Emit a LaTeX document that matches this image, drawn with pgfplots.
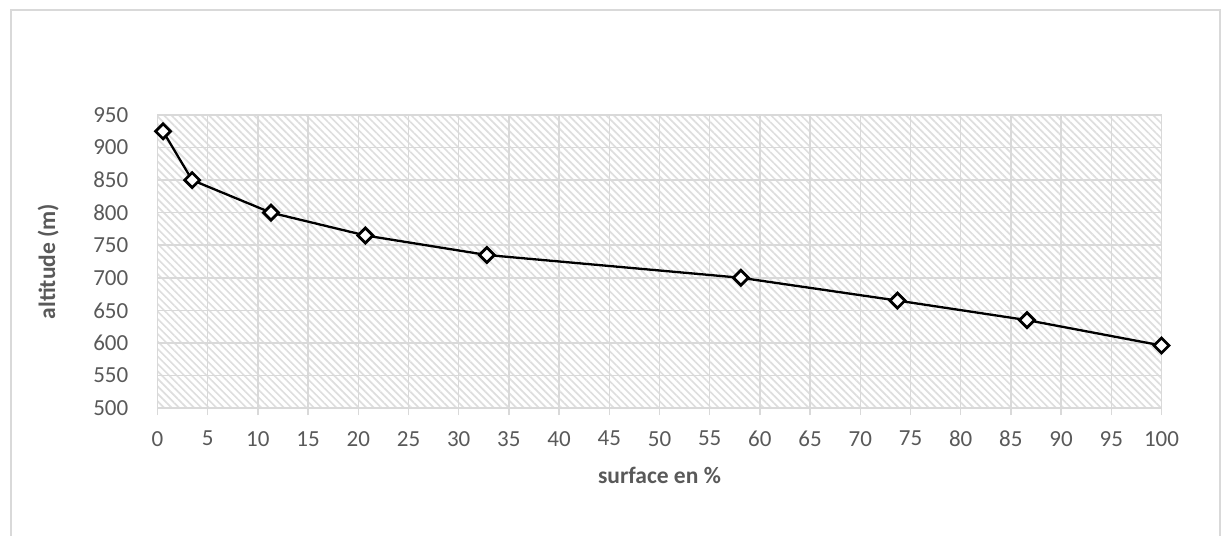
\documentclass[border=0pt]{standalone}
\usepackage{pgfplots}
\pgfplotsset{compat=1.18}
\usepackage{fontspec}
\setmainfont{Carlito}
\usetikzlibrary{patterns.meta}
\definecolor{txtgray}{HTML}{595959}
\definecolor{gridgray}{HTML}{D9D9D9}
\begin{document}
\begin{tikzpicture}
\path[use as bounding box] (0,0) rectangle (1221bp,-536bp);
\draw[gridgray, line width=1.5bp] (11bp,-536bp) -- (11bp,-10bp) -- (1220bp,-10bp) -- (1220bp,-536bp);
\begin{axis}[
  at={(157.5bp,-408bp)}, anchor=south west,
  scale only axis, width=1004bp, height=293bp,
  xmin=0, xmax=100, ymin=500, ymax=950,
  xtick={0,5,...,100}, ytick={500,550,...,950},
  grid=major,
  major grid style={gridgray, line width=1.5bp},
  axis line style={gridgray, line width=1.5bp},
  axis background/.style={pattern={Lines[angle=-45,distance=5.3bp,line width=1.7bp]}, pattern color=black!13},
  xtick pos=bottom, ytick pos=left,
  tick align=outside,
  major tick length=7bp,
  xtick style={gridgray, line width=1.5bp},
  ytick style={draw=none},
  /pgf/number format/assume math mode=true,
  ticklabel style={font=\fontsize{23bp}{27bp}\selectfont, text=txtgray},
  xticklabel style={inner sep=0pt, anchor=north, yshift=-16bp},
  yticklabel style={inner sep=0pt, anchor=east, xshift=-22bp},
  xlabel={surface en \%},
  ylabel={altitude (m)},
  label style={font=\bfseries\fontsize{23.5bp}{27bp}\selectfont, text=txtgray},
  xlabel style={at={(axis description cs:0.5,-0.2287)}, anchor=center},
  ylabel style={at={(axis description cs:-0.109,0.5)}, anchor=center, rotate=0},
  clip=false,
]
\addplot[black, line width=2.3bp, mark=square*, mark size=5.3bp,
  mark options={fill=white, draw=black, line width=2.8bp, rotate=45}]
  coordinates {
  (0.55,925) (3.45,850) (11.3,800) (20.7,765) (32.8,735)
  (58.1,700) (73.7,665) (86.6,635) (100,596)
  };
\end{axis}
\end{tikzpicture}
\end{document}
